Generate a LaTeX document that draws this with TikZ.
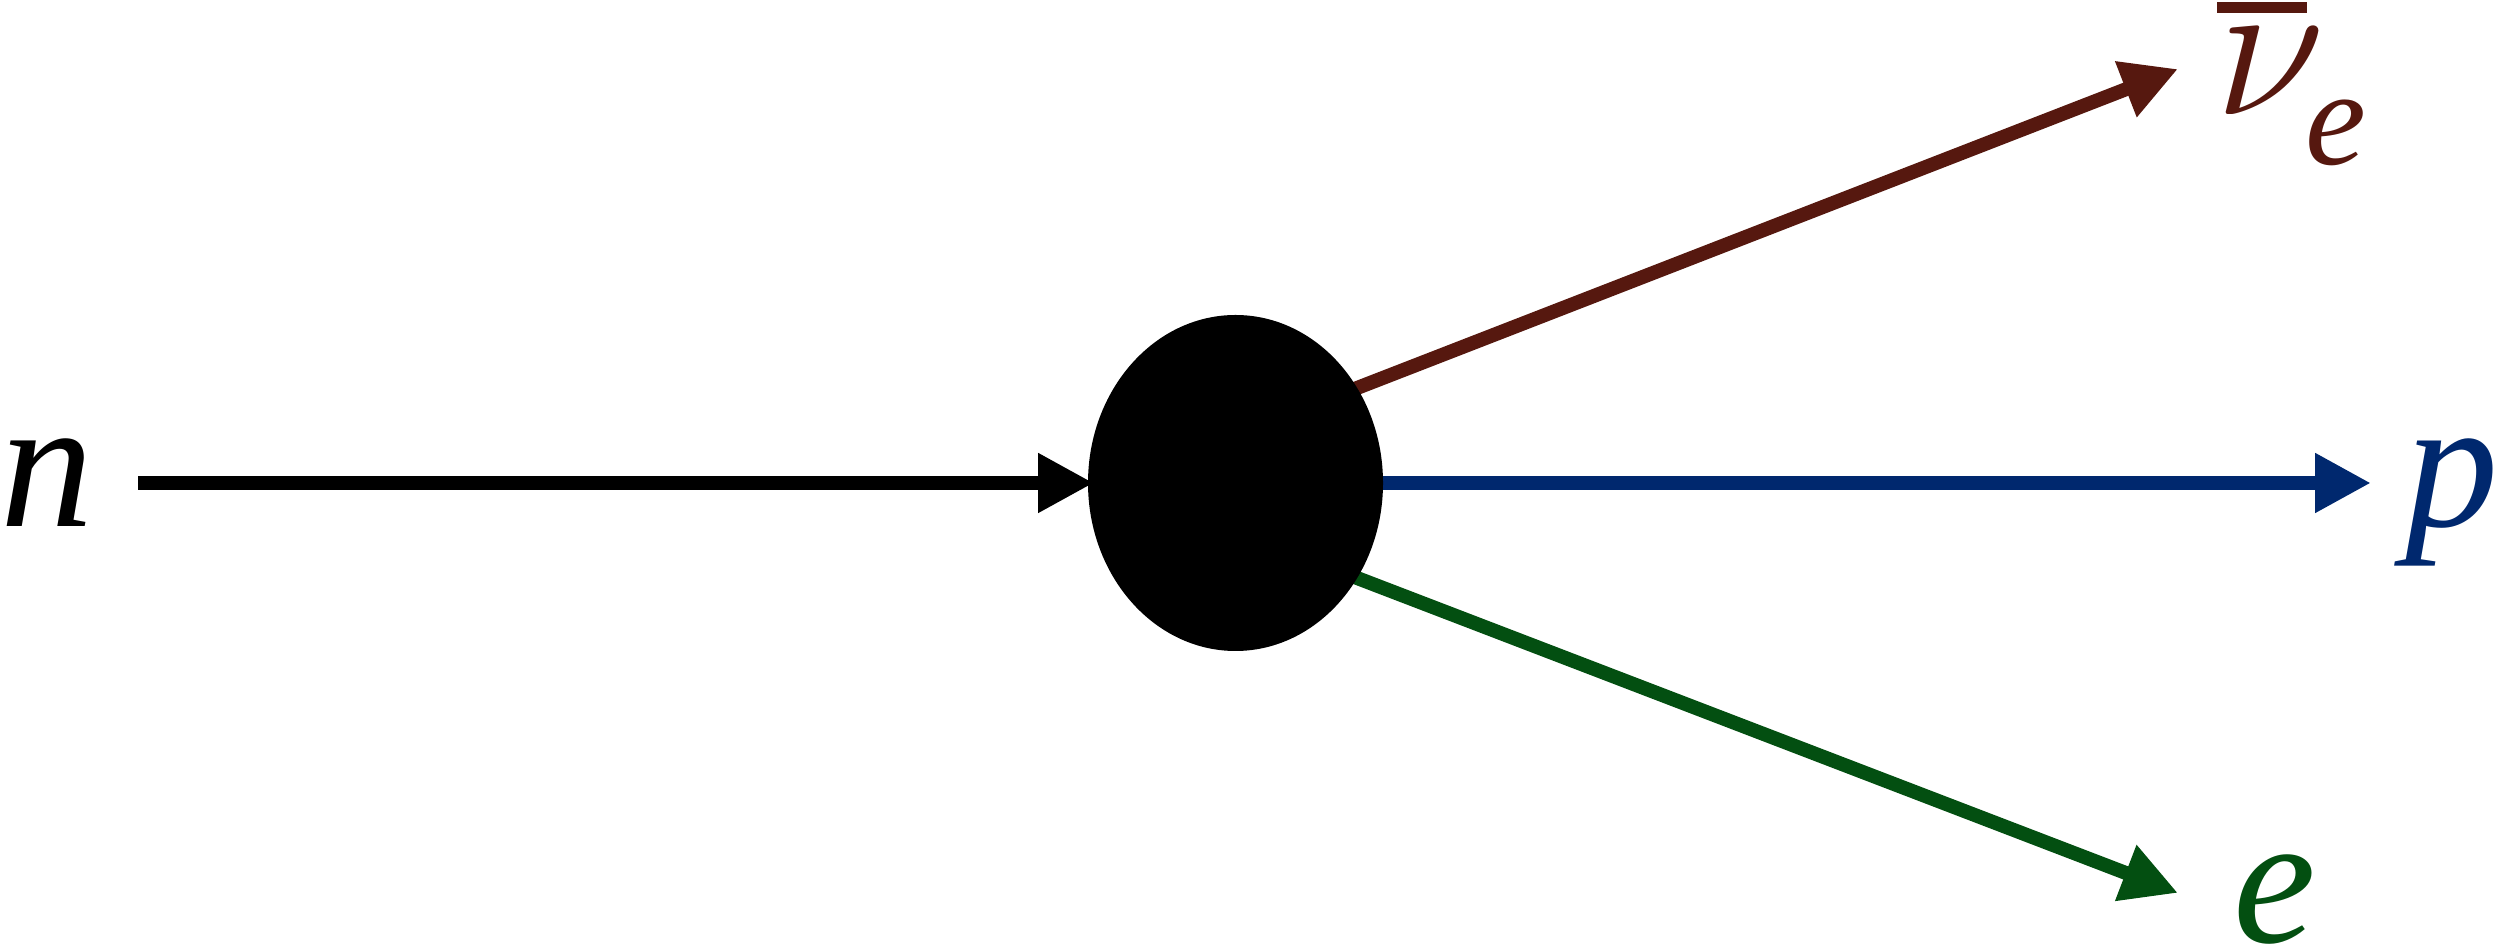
\documentclass[tikz,border=0pt]{standalone}
\usepackage{fontspec}
\usepackage{graphicx}
\setmainfont{Liberation Serif}
\usetikzlibrary{arrows.meta,shapes.geometric,backgrounds}
\definecolor{nucol}{RGB}{86,24,15}
\definecolor{pcol}{RGB}{0,40,110}
\definecolor{ecol}{RGB}{3,79,17}
\newcommand{\barnu}{\vbox{\offinterlineskip\hbox{\kern0.02cm\rule{0.90cm}{0.11cm}}\kern0.15cm\hbox{\scalebox{2.3}{$\nu$}}}}
\begin{document}
\begin{tikzpicture}[>={Triangle[length=0.56cm,width=0.56cm]},
	lbl/.style={inner sep=0,outer sep=0,font=\fontsize{53}{60}\selectfont\itshape},
	leg/.style={line width=0.14cm,->}]
		\useasboundingbox (0,0) rectangle (25.18,-9.51);
		\node[ellipse,fill=black,inner sep=0,outer sep=0,minimum width=2.95cm,minimum height=3.36cm] (blob) at (12.355,-4.83) {};
		\node[lbl,anchor=base west] (n) at (0.01,-5.27) {n};
		\node[lbl,anchor=base west,text=pcol] (p) at (24.05,-5.27) {p};
		\node[lbl,anchor=base west,text=ecol] (e) at (22.33,-9.43) {e};
		\node[lbl,anchor=base west,text=nucol] (nu) at (22.15,-1.15) {\barnu\kern-0.2cm\raisebox{-0.50cm}{\fontsize{39}{40}\selectfont e}};
		\coordinate (nstart) at (1.38,-4.83);
		\coordinate (ntip) at (10.94,-4.83);
		\coordinate (ptip) at (23.71,-4.83);
		\coordinate (nutip) at (21.78,-0.69);
		\coordinate (etip) at (21.78,-8.93);
		\begin{scope}[on background layer]
		\draw[leg] (nstart)--(ntip);
		\draw[leg,pcol,shorten <=-0.15cm] (blob.east)--(ptip);
		\draw[leg,nucol,shorten <=-0.15cm] (blob.38)--(nutip);
		\draw[leg,ecol,shorten <=-0.15cm] (blob.-38)--(etip);
		\end{scope}
		\end{tikzpicture}
\end{document}
